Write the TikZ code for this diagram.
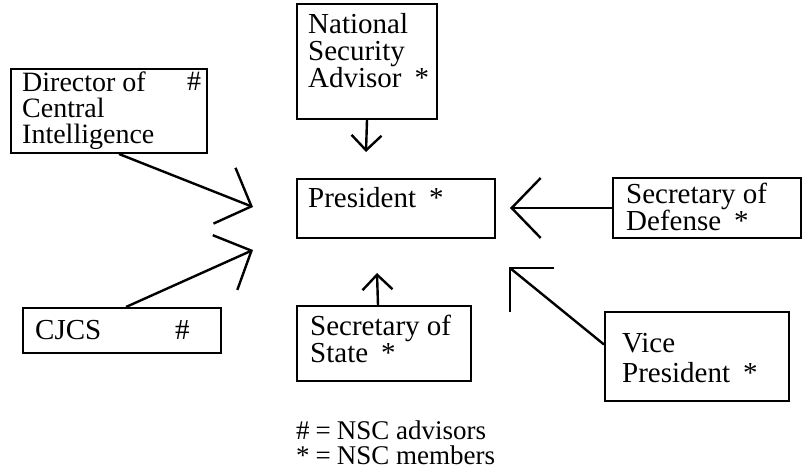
\documentclass[tikz,border=0pt]{standalone}
\usepackage{fontspec}
\setmainfont{Liberation Serif}
\usetikzlibrary{arrows.meta}
\begin{document}
\begin{tikzpicture}[x=1pt,y=-1pt,
  box/.style={draw,line width=2pt,rectangle,inner sep=0pt,anchor=north west},
  lbl/.style={anchor=north west,inner sep=0pt,align=left,font=\fontsize{29}{27}\selectfont},
  conn/.style={line width=2.4pt},
  bigarrow/.style={conn,-{Straight Barb[length=29pt,width=60pt]}},
  smallarrow/.style={conn,-{Straight Barb[length=15pt,width=30pt]}}
]
\useasboundingbox (0,0) rectangle (804,470);

% boxes
\node[box,minimum width=140pt,minimum height=115pt] (nsa) at (296,3) {};
\node[box,minimum width=196pt,minimum height=84pt] (dci) at (10,68) {};
\node[box,minimum width=198pt,minimum height=59pt] (pres) at (296,178) {};
\node[box,minimum width=188pt,minimum height=60pt] (sd) at (612,177) {};
\node[box,minimum width=198pt,minimum height=45pt] (cjcs) at (22,307) {};
\node[box,minimum width=174pt,minimum height=75pt] (ss) at (296,305) {};
\node[box,minimum width=184pt,minimum height=89pt] (vp) at (604,311) {};

% texts
\node[lbl] (nsat) at (308,13) {National\\Security\\Advisor\hspace{0.45em}*};
\node[lbl,font=\fontsize{28}{26}\selectfont] (dcit) at (22,72) {Director of\\Central\\Intelligence};
\node[lbl,font=\fontsize{28}{26}\selectfont] (dcih) at (187,72) {\#};
\node[lbl] (prest) at (308,187) {President\hspace{0.45em}*};
\node[lbl] (sdt) at (626,183) {Secretary of\\Defense\hspace{0.45em}*};
\node[lbl] (cjcst) at (35,320) {CJCS};
\node[lbl] (cjcsh) at (175,320) {\#};
\node[lbl] (sst) at (310,315) {Secretary of\\State\hspace{0.45em}*};
\node[lbl,font=\fontsize{29}{30}\selectfont] (vpt) at (622,333) {Vice\\President\hspace{0.45em}*};
\node[lbl,font=\fontsize{27}{25}\selectfont] (legend) at (296,421)
  {\#\hspace{0.22em}=\hspace{0.22em}NSC advisors\\*\hspace{0.22em}=\hspace{0.22em}NSC members};

% arrow tips
\coordinate (t1) at (253,207);
\coordinate (t2) at (253,250);
\coordinate (t3) at (366,152);
\coordinate (t4) at (377,273);
\coordinate (t5) at (510,208);
\coordinate (t6) at (510,268);

% connectors
\draw[bigarrow] ([xshift=10pt]dci.south) -- (t1);
\draw[bigarrow] ([xshift=4pt]cjcs.north) -- (t2);
\draw[smallarrow] (nsa.south) -- (t3);
\draw[smallarrow] ([xshift=-6pt]ss.north) -- (t4);
\draw[bigarrow] (sd.west |- t5) -- (t5);
\draw[conn] ([yshift=12pt]vp.west) -- (t6);
\draw[conn] (t6) ++(44,0) -- (t6) -- ++(0,44);
\end{tikzpicture}
\end{document}
